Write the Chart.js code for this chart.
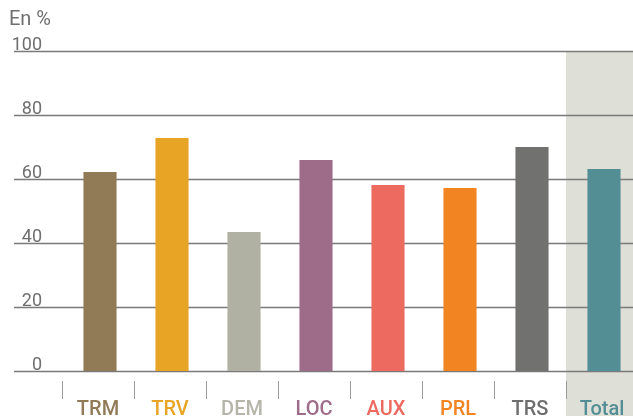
<!DOCTYPE html>
<html>
<head>
<meta charset="utf-8">
<script src="https://cdn.jsdelivr.net/npm/chart.js@4/dist/chart.umd.min.js"></script>
<style>
  html, body { margin: 0; padding: 0; background: #fff; overflow: hidden; }
  canvas { display: block; }
</style>
</head>
<body>
<canvas id="grafico" width="640" height="416"></canvas>
<script>
// données (en %)
const categories = ["TRM", "TRV", "DEM", "LOC", "AUX", "PRL", "TRS", "Total"];
const valeurs = [62.2, 72.8, 43.4, 65.9, 58.1, 57.2, 70.0, 63.1];
const couleurs = ["#917b57", "#e8a424", "#b0b0a3", "#9e6b89", "#ec6a5f", "#f38422", "#71716f", "#548e95"];
const couleursLabels = ["#917b57", "#e8a424", "#b5b5aa", "#9e6b89", "#ec6a5f", "#f38422", "#6e6e6e", "#548e95"];
const graduations = [0, 20, 40, 60, 80, 100];
const titreAxe = "En %";

const police = "Roboto, 'DejaVu Sans', sans-serif";

const decor = {
    id: "decor",
    beforeDatasetsDraw(chart) {
        const ctx = chart.ctx;
        const x = chart.scales.x;
        const y = chart.scales.y;
        const pas = x.getPixelForValue(1) - x.getPixelForValue(0);

        // bande grise derrière "Total"
        const iTotal = categories.indexOf("Total");
        const xBande = x.getPixelForValue(iTotal) - pas / 2 - 2;
        ctx.save();
        ctx.fillStyle = "#dedfd7";
        ctx.fillRect(xBande, y.getPixelForValue(100), chart.width - xBande, chart.height - y.getPixelForValue(100));

        // lignes horizontales + valeurs
        ctx.strokeStyle = "#7a7a7a";
        ctx.lineWidth = 1.5;
        ctx.fillStyle = "#6f6f6f";
        ctx.font = "18px " + police;
        ctx.textAlign = "right";
        ctx.textBaseline = "alphabetic";
        graduations.forEach(v => {
            const py = Math.round(y.getPixelForValue(v)) + 0.5;
            ctx.beginPath();
            ctx.moveTo(14, py);
            ctx.lineTo(chart.width, py);
            ctx.stroke();
            ctx.fillText(String(v), 42, py - 2);
        });
        ctx.restore();
    },
    afterDraw(chart) {
        const ctx = chart.ctx;
        const x = chart.scales.x;
        const pas = x.getPixelForValue(1) - x.getPixelForValue(0);
        ctx.save();

        // petits traits entre catégories
        ctx.strokeStyle = "#9a9a9a";
        ctx.lineWidth = 1;
        for (let i = 0; i < categories.length; i++) {
            const px = Math.round(x.getPixelForValue(i) - pas / 2) - 1.5;
            ctx.beginPath();
            ctx.moveTo(px, 381);
            ctx.lineTo(px, 399);
            ctx.stroke();
        }

        // libellés des catégories
        ctx.font = "500 20px " + police;
        ctx.textAlign = "center";
        ctx.textBaseline = "alphabetic";
        categories.forEach((c, i) => {
            ctx.fillStyle = couleursLabels[i];
            ctx.fillText(c, x.getPixelForValue(i) - 2, 415);
        });

        // titre de l'axe
        ctx.fillStyle = "#6f6f6f";
        ctx.font = "20px " + police;
        ctx.textAlign = "left";
        ctx.fillText(titreAxe, 9, 25);
        ctx.restore();
    }
};

new Chart(document.getElementById("grafico").getContext("2d"), {
    type: "bar",
    data: {
        labels: categories,
        datasets: [{
            data: valeurs,
            backgroundColor: couleurs,
            borderWidth: 0,
            barPercentage: 0.46,
            categoryPercentage: 1
        }]
    },
    options: {
        responsive: false,
        animation: false,
        devicePixelRatio: 1,
        layout: { padding: { left: 64, right: 0, top: 51, bottom: 45 } },
        plugins: {
            legend: { display: false },
            tooltip: { enabled: false }
        },
        scales: {
            x: { display: false },
            y: { display: false, min: 0, max: 100 }
        }
    },
    plugins: [decor]
});
</script>
</body>
</html>
